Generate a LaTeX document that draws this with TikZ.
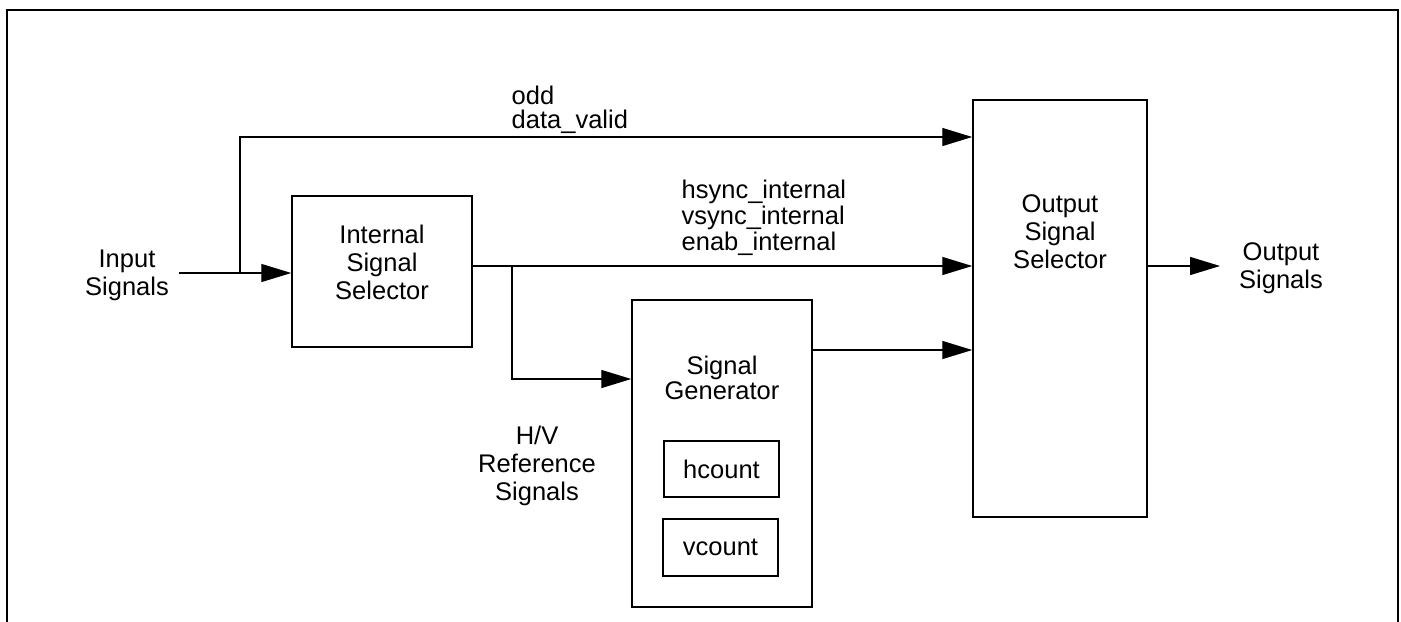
\documentclass[tikz,border=0pt]{standalone}
\usepackage{fontspec}
\setmainfont{Liberation Sans}
\usetikzlibrary{arrows.meta}

\begin{document}
\begin{tikzpicture}[x=0.5pt,y=-0.5pt,line width=0.7pt,
  >={Triangle[length=15pt,width=9pt]},
  every node/.style={font=\fontsize{12.75}{14}\selectfont,inner sep=0pt},
  blk/.style={draw,line width=0.75pt},
  txt/.style={align=center},
  sig/.style={align=left,anchor=west,font=\fontsize{12.75}{11.75}\selectfont}]
\useasboundingbox (0,0) rectangle (1401,621);
\draw[line width=1pt] (7,640) -- (7,10) -- (1398,10) -- (1398,640);

\node[blk,minimum width=90pt,minimum height=75.5pt] (iss) at (382,271.5) {};
\node[blk,minimum width=87pt,minimum height=208.5pt] (oss) at (1060,308.5) {};
\node[blk,minimum width=90pt,minimum height=153.5pt] (sg) at (722,453.5) {};
\node[blk,minimum width=57.5pt,minimum height=28pt] (hc) at (721.5,469) {hcount};
\node[blk,minimum width=57.5pt,minimum height=28.5pt] (vc) at (720.5,547.5) {vcount};

\node[txt] (isstext) at (382,262) {Internal\\Signal\\Selector};
\node[txt] (osstext) at (1060,232) {Output\\Signal\\Selector};
\node[txt,font=\fontsize{12.75}{11.5}\selectfont] (sgtext) at (722,378) {Signal\\Generator};
\node[txt] (inlbl) at (127,275) {Input\\Signals};
\node[txt] (outlbl) at (1281,268) {Output\\Signals};
\node[txt] (hvlbl) at (537,466) {H/V\\Reference\\Signals};
\node[sig] (oddlbl) at (511,110) {odd\\data\_valid};
\node[sig] (synclbl) at (681,218) {hsync\_internal\\vsync\_internal\\enab\_internal};

\coordinate (in) at (179,273);
\coordinate (tap) at (240,273);
\coordinate (top) at (240,137);
\coordinate (fork) at (512,266);
\coordinate (hv) at (512,379);
\coordinate (gen) at (812,350);
\coordinate (out) at (1220,266);

\draw[->] (in) -- (in -| iss.west);
\draw[->] (tap) -- (top) -- (top -| oss.west);
\draw[->] (fork -| iss.east) -- (fork -| oss.west);
\draw[->] (fork) -- (hv) -- (hv -| sg.west);
\draw[->] (gen) -- (gen -| oss.west);
\draw[->] (oss.east |- out) -- (out);
\end{tikzpicture}
\end{document}
